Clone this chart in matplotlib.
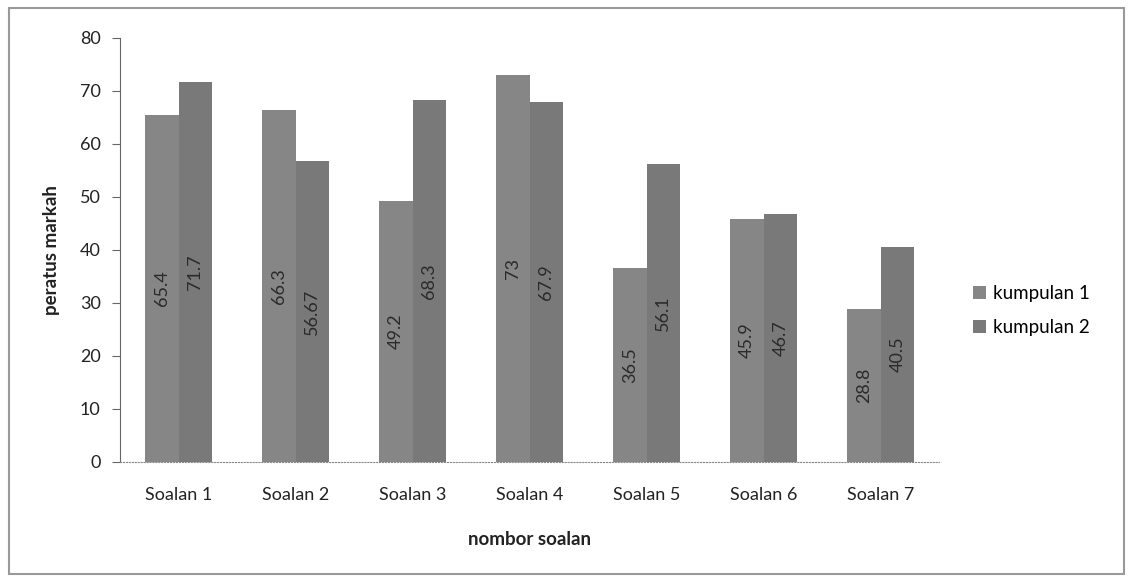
import matplotlib.pyplot as plt
import numpy as np
from matplotlib.patches import Rectangle

plt.rcParams['font.family'] = ['Lato', 'DejaVu Sans']

soalan = ['Soalan 1', 'Soalan 2', 'Soalan 3', 'Soalan 4', 'Soalan 5', 'Soalan 6', 'Soalan 7']
kumpulan1 = [65.4, 66.3, 49.2, 73, 36.5, 45.9, 28.8]
kumpulan2 = [71.7, 56.67, 68.3, 67.9, 56.1, 46.7, 40.5]
label1 = ['65.4', '66.3', '49.2', '73', '36.5', '45.9', '28.8']
label2 = ['71.7', '56.67', '68.3', '67.9', '56.1', '46.7', '40.5']

fig = plt.figure(figsize=(11.33, 5.81), dpi=100)
ax = fig.add_axes([0.106, 0.205, 0.723, 0.730])

x = np.arange(len(soalan))
w = 0.285
b1 = ax.bar(x - w / 2, kumpulan1, w, color='#868686', label='kumpulan 1')
b2 = ax.bar(x + w / 2, kumpulan2, w, color='#797979', label='kumpulan 2')

for bars, labs in [(b1, label1), (b2, label2)]:
    for r, t in zip(bars, labs):
        ax.text(r.get_x() + r.get_width() / 2, r.get_height() / 2, t,
                rotation=90, ha='center', va='center', fontsize=13, color='#2a2a2a')

ax.set_xlim(-0.5, len(soalan) - 0.5)
ax.set_ylim(0, 80)
ax.set_yticks(range(0, 81, 10))
ax.set_xticks(x)
ax.set_xticklabels(soalan)
ax.tick_params(axis='x', length=0, pad=18, labelsize=13, colors='#222222')
ax.tick_params(axis='y', length=6, width=0.8, color='#666666', labelsize=13,
               labelcolor='#222222', pad=8)
for s in ['top', 'right']:
    ax.spines[s].set_visible(False)
ax.spines['left'].set_color('#666666')
ax.spines['bottom'].set_color('#888888')
ax.spines['bottom'].set_linestyle(':')

ax.set_xlabel('nombor soalan', fontsize=13.5, fontweight='bold', labelpad=20, color='#222222')
ax.set_ylabel('peratus markah', fontsize=13.5, fontweight='bold', labelpad=14, color='#222222')

ax.legend(loc='center left', bbox_to_anchor=(1.02, 0.356), frameon=False, fontsize=13.5,
          handlelength=0.7, handleheight=0.7, handletextpad=0.4, labelspacing=0.9)

fig.patches.append(Rectangle((0.008, 0.012), 0.984, 0.975, transform=fig.transFigure,
                             fill=False, edgecolor='#999999', linewidth=1.5))

fig.savefig('out.png', dpi=100)
